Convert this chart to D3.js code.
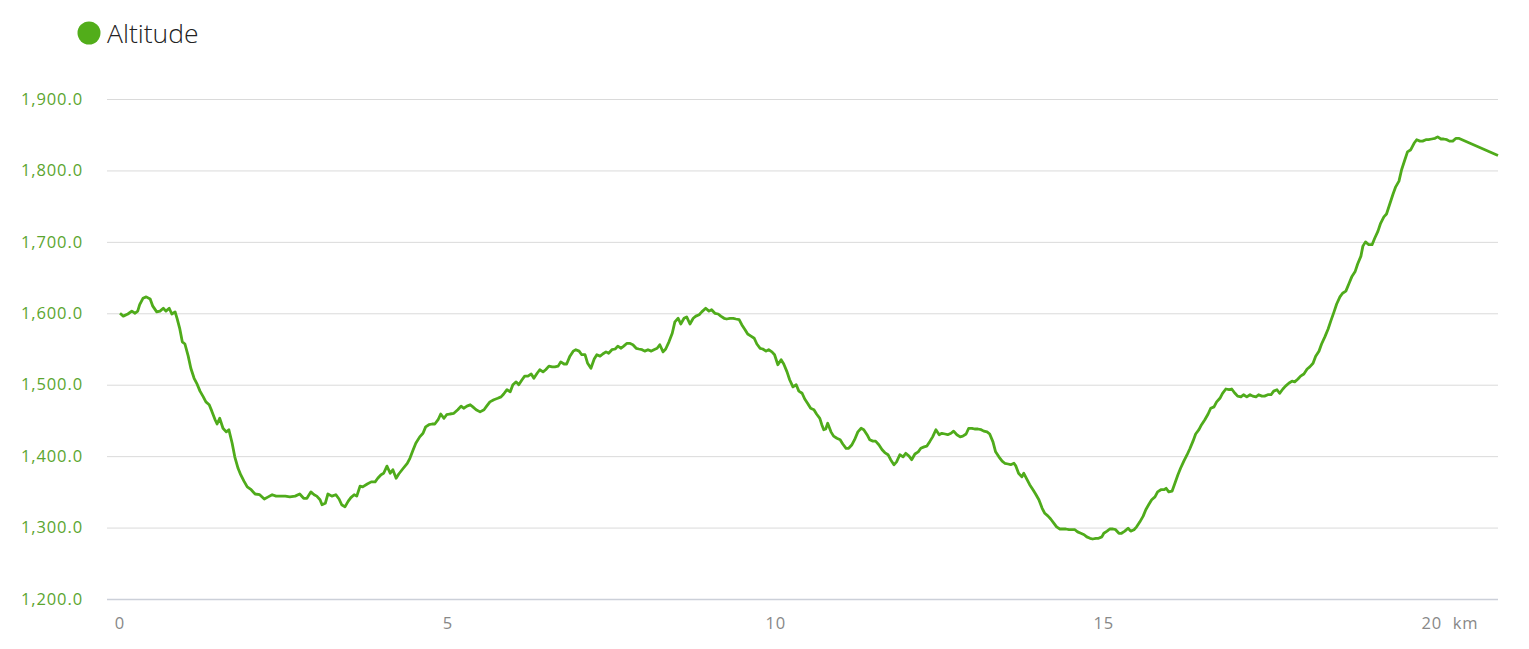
<!DOCTYPE html>
<html><head><meta charset="utf-8">
<script src="https://cdn.jsdelivr.net/npm/d3@7"></script>
<style>
html,body{margin:0;padding:0;background:#fff;}
svg{display:block;}
</style></head>
<body>
<svg id="chart" width="1529" height="649"></svg>
<script>
const seriesName = "Altitude";
const distanceKm = [0.00,0.05,0.12,0.18,0.23,0.27,0.30,0.35,0.40,0.46,0.50,0.56,0.61,0.66,0.70,0.75,0.79,0.84,0.87,0.91,0.95,0.99,1.04,1.08,1.13,1.17,1.22,1.27,1.31,1.36,1.40,1.45,1.48,1.52,1.57,1.62,1.66,1.71,1.75,1.80,1.84,1.89,1.94,2.00,2.06,2.13,2.20,2.26,2.32,2.38,2.44,2.52,2.59,2.67,2.74,2.80,2.85,2.91,2.96,3.00,3.05,3.08,3.13,3.17,3.23,3.29,3.34,3.38,3.43,3.48,3.52,3.57,3.61,3.66,3.70,3.77,3.83,3.89,3.93,3.98,4.02,4.07,4.12,4.16,4.21,4.25,4.31,4.38,4.42,4.47,4.51,4.57,4.62,4.66,4.71,4.76,4.80,4.85,4.89,4.94,4.98,5.03,5.09,5.15,5.20,5.24,5.29,5.34,5.38,5.43,5.49,5.55,5.59,5.64,5.70,5.76,5.81,5.85,5.90,5.95,5.99,6.04,6.08,6.13,6.17,6.22,6.27,6.31,6.36,6.40,6.45,6.49,6.54,6.59,6.63,6.68,6.72,6.77,6.81,6.86,6.91,6.95,7.00,7.04,7.09,7.13,7.18,7.23,7.27,7.32,7.36,7.41,7.45,7.50,7.55,7.59,7.64,7.68,7.73,7.77,7.82,7.87,7.91,7.96,8.00,8.05,8.10,8.14,8.19,8.23,8.28,8.32,8.37,8.42,8.46,8.51,8.55,8.60,8.64,8.69,8.74,8.78,8.83,8.87,8.93,8.98,9.02,9.07,9.12,9.16,9.21,9.25,9.30,9.35,9.39,9.44,9.48,9.53,9.57,9.62,9.67,9.71,9.76,9.80,9.85,9.89,9.94,9.98,10.03,10.08,10.12,10.17,10.21,10.26,10.31,10.35,10.40,10.44,10.49,10.53,10.58,10.62,10.67,10.70,10.73,10.76,10.79,10.84,10.88,10.93,10.98,11.02,11.07,11.11,11.16,11.20,11.25,11.30,11.34,11.39,11.43,11.48,11.52,11.57,11.62,11.66,11.71,11.75,11.80,11.84,11.89,11.94,11.98,12.03,12.07,12.12,12.17,12.21,12.26,12.30,12.35,12.39,12.44,12.49,12.53,12.58,12.62,12.67,12.71,12.76,12.81,12.85,12.90,12.94,12.99,13.03,13.08,13.13,13.17,13.22,13.26,13.31,13.35,13.40,13.45,13.49,13.54,13.58,13.63,13.66,13.70,13.75,13.78,13.83,13.87,13.92,13.96,14.01,14.06,14.10,14.15,14.19,14.24,14.28,14.33,14.38,14.42,14.47,14.51,14.56,14.60,14.65,14.70,14.74,14.79,14.83,14.88,14.92,14.97,15.00,15.05,15.09,15.14,15.18,15.23,15.27,15.32,15.37,15.41,15.46,15.50,15.55,15.60,15.64,15.69,15.73,15.78,15.82,15.87,15.92,15.95,15.99,16.04,16.08,16.13,16.17,16.22,16.27,16.31,16.36,16.40,16.45,16.49,16.54,16.59,16.63,16.68,16.72,16.77,16.81,16.86,16.91,16.95,17.00,17.04,17.09,17.13,17.18,17.23,17.27,17.32,17.36,17.41,17.45,17.50,17.55,17.59,17.64,17.68,17.73,17.77,17.82,17.87,17.91,17.96,18.00,18.05,18.10,18.14,18.19,18.23,18.28,18.32,18.37,18.42,18.46,18.51,18.55,18.60,18.64,18.69,18.74,18.78,18.83,18.87,18.92,18.95,18.99,19.04,19.09,19.13,19.18,19.22,19.27,19.31,19.36,19.41,19.45,19.50,19.54,19.59,19.63,19.68,19.73,19.77,19.82,19.86,19.91,19.95,20.00,20.05,20.09,20.14,20.18,20.23,20.27,20.32,20.37,20.41,21.01];
const altitudeM = [1600,1596,1599,1603,1600,1603,1612,1621,1623,1620,1610,1602,1603,1607,1603,1607,1599,1602,1593,1579,1560,1557,1540,1523,1509,1502,1491,1483,1476,1472,1463,1451,1445,1453,1439,1434,1437,1418,1399,1383,1374,1365,1357,1353,1347,1346,1340,1343,1346,1344,1344,1344,1343,1344,1347,1341,1341,1350,1346,1344,1339,1332,1334,1347,1344,1346,1340,1332,1329,1337,1342,1346,1344,1358,1357,1361,1364,1364,1369,1374,1376,1386,1376,1381,1369,1375,1382,1390,1397,1409,1418,1427,1432,1441,1444,1445,1445,1451,1459,1453,1458,1459,1460,1465,1470,1467,1470,1472,1469,1465,1462,1465,1470,1476,1479,1481,1483,1487,1493,1490,1500,1504,1500,1507,1512,1512,1515,1509,1516,1521,1518,1521,1526,1525,1525,1526,1532,1529,1529,1540,1547,1549,1547,1542,1542,1530,1523,1536,1542,1540,1543,1546,1544,1549,1550,1554,1551,1554,1558,1558,1556,1551,1550,1549,1547,1549,1547,1549,1551,1556,1546,1550,1560,1572,1588,1593,1585,1593,1595,1585,1593,1596,1598,1602,1607,1603,1605,1600,1599,1596,1593,1592,1593,1593,1592,1591,1584,1577,1571,1568,1565,1557,1551,1550,1547,1549,1546,1542,1528,1535,1529,1518,1507,1497,1500,1491,1488,1480,1473,1467,1465,1459,1453,1444,1437,1438,1446,1434,1428,1425,1423,1417,1411,1411,1416,1423,1434,1439,1437,1430,1423,1421,1421,1416,1409,1405,1402,1395,1388,1392,1402,1399,1404,1400,1395,1403,1406,1411,1413,1414,1421,1427,1437,1430,1432,1431,1430,1432,1435,1430,1427,1428,1431,1439,1439,1438,1438,1437,1435,1434,1431,1420,1406,1399,1393,1390,1389,1388,1390,1386,1376,1371,1376,1367,1360,1353,1347,1339,1327,1320,1316,1312,1306,1301,1298,1298,1298,1297,1297,1297,1294,1292,1290,1287,1285,1284,1285,1285,1287,1292,1295,1298,1298,1297,1292,1292,1295,1299,1295,1297,1301,1308,1316,1325,1333,1339,1343,1350,1353,1353,1355,1350,1351,1361,1374,1383,1393,1402,1410,1421,1431,1437,1444,1451,1459,1467,1469,1476,1481,1488,1494,1493,1494,1488,1484,1483,1486,1483,1486,1484,1483,1486,1484,1484,1486,1486,1491,1493,1488,1494,1498,1502,1505,1504,1508,1512,1515,1522,1525,1530,1540,1547,1557,1567,1578,1589,1602,1613,1623,1628,1631,1642,1651,1658,1669,1680,1694,1700,1696,1696,1705,1715,1726,1735,1739,1753,1767,1777,1785,1801,1815,1826,1829,1838,1843,1841,1841,1843,1843,1844,1845,1847,1844,1844,1843,1841,1841,1845,1845,1821];
const yTicks = [1200,1300,1400,1500,1600,1700,1800,1900];
const xTicks = [0,5,10,15,20];
const xUnit = "km";

const data = distanceKm.map((d,i)=>({km:d, alt:altitudeM[i]}));

const svg = d3.select("#chart");
const gridLeft = 107, gridRight = 1498;
const x = d3.scaleLinear().domain([0, 21.01]).range([120, 1498]);
const y = d3.scaleLinear().domain([1200, 1900]).range([599, 99]);
const font = "'Open Sans', 'Segoe UI', sans-serif";
const lineColor = "#4fab1b";

// gridlines
svg.append("g").selectAll("line").data(yTicks).join("line")
  .attr("x1", gridLeft).attr("x2", gridRight)
  .attr("y1", d=>y(d)+0.5).attr("y2", d=>y(d)+0.5)
  .attr("stroke", d=> d===1200 ? "#ccd0d9" : "#dadada")
  .attr("stroke-width", d=> d===1200 ? 1.5 : 1);

// y axis labels
const fmt = d3.format(",.1f");
svg.append("g").selectAll("text").data(yTicks).join("text")
  .attr("x", 83).attr("y", d=>y(d)).attr("dy", "0.35em")
  .attr("text-anchor", "end")
  .attr("font-family", font).attr("font-size", 16.5)
  .attr("letter-spacing", 0.9)
  .attr("fill", "#5ba52f")
  .text(d=>fmt(d));

// x axis labels
svg.append("g").selectAll("text").data(xTicks).join("text")
  .attr("x", d=>x(d)).attr("y", 623).attr("dy", "0.35em")
  .attr("text-anchor", "middle")
  .attr("font-family", font).attr("font-size", 16.5)
  .attr("letter-spacing", 0.9)
  .attr("fill", "#888")
  .text(d=>d);
svg.append("text")
  .attr("x", x(20)+21).attr("y", 623).attr("dy","0.35em")
  .attr("font-family", font).attr("font-size", 16.5).attr("fill", "#888")
  .attr("letter-spacing", 0.9)
  .text(xUnit);

// line
const line = d3.line().x(d=>x(d.km)).y(d=>y(d.alt)).curve(d3.curveLinear);
svg.append("path").datum(data)
  .attr("d", line)
  .attr("fill", "none")
  .attr("stroke", lineColor)
  .attr("stroke-width", 2.8)
  .attr("stroke-linejoin", "round");

// legend
svg.append("circle").attr("cx", 89).attr("cy", 33).attr("r", 11.5).attr("fill", "#52ad1a");
svg.append("text").attr("x", 107).attr("y", 34).attr("dy", "0.35em")
  .attr("font-family", font).attr("font-size", 26.5).attr("font-weight", 300)
  .attr("fill", "#222").text(seriesName);
</script>
</body></html>
